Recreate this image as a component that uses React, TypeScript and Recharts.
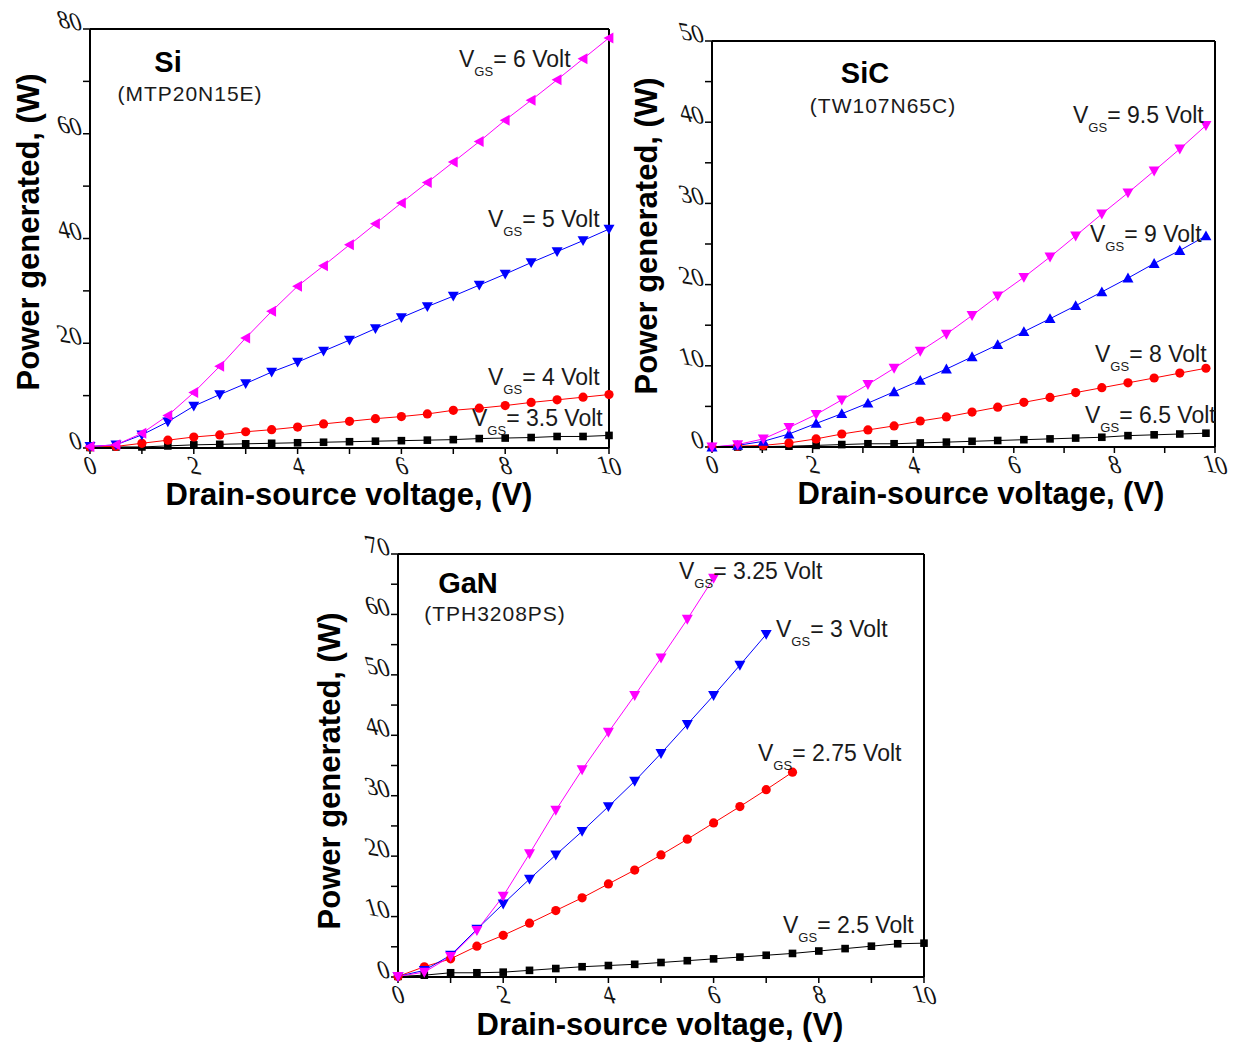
import React from 'react';
import { LineChart, Line, XAxis, YAxis } from 'recharts';

// ---------- Data ----------
const xTicks = [0, 1, 2, 3, 4, 5, 6, 7, 8, 9, 10];

// Si (MTP20N15E)
const siVds = [0, 0.5, 1, 1.5, 2, 2.5, 3, 3.5, 4, 4.5, 5, 5.5, 6, 6.5, 7, 7.5, 8, 8.5, 9, 9.5, 10];
const siP6 = [0.3, 0.6, 2.8, 6.2, 10.6, 15.6, 21.0, 26.1, 30.9, 34.8, 38.8, 42.8, 46.8, 50.7, 54.6, 58.5, 62.6, 66.4, 70.3, 74.3, 78.3];
const siP5 = [0.3, 0.6, 2.5, 5.0, 8.0, 10.2, 12.3, 14.5, 16.4, 18.5, 20.6, 22.8, 24.9, 27.0, 29.0, 31.1, 33.2, 35.4, 37.5, 39.6, 41.8];
const siP4 = [0.2, 0.3, 0.9, 1.5, 2.1, 2.5, 3.1, 3.5, 4.0, 4.6, 5.1, 5.6, 6.0, 6.5, 7.2, 7.6, 8.1, 8.7, 9.2, 9.7, 10.2];
const siP35 = [0.1, 0.2, 0.2, 0.4, 0.6, 0.7, 0.8, 0.9, 1.0, 1.1, 1.2, 1.3, 1.4, 1.5, 1.6, 1.8, 1.9, 2.0, 2.2, 2.2, 2.4];
const siYTicks = [0, 10, 20, 30, 40, 50, 60, 70, 80];

// SiC (TW107N65C)
const sicVds = [0, 0.51, 1.02, 1.53, 2.07, 2.58, 3.1, 3.62, 4.14, 4.66, 5.17, 5.68, 6.2, 6.72, 7.23, 7.75, 8.27, 8.79, 9.3, 9.82];
const sicP95 = [0, 0.3, 1.0, 2.4, 4.0, 5.8, 7.7, 9.7, 11.8, 13.9, 16.2, 18.6, 20.9, 23.4, 26.0, 28.7, 31.3, 34.0, 36.7, 39.6];
const sicP9 = [0, 0.2, 0.7, 1.6, 2.9, 4.1, 5.4, 6.8, 8.2, 9.6, 11.1, 12.6, 14.2, 15.8, 17.4, 19.1, 20.8, 22.6, 24.2, 26.0];
const sicP8 = [0, 0.1, 0.2, 0.5, 1.0, 1.6, 2.1, 2.6, 3.2, 3.7, 4.3, 4.9, 5.5, 6.1, 6.7, 7.3, 7.9, 8.5, 9.1, 9.7];
const sicP65 = [0, 0, 0.05, 0.1, 0.2, 0.3, 0.4, 0.4, 0.5, 0.6, 0.7, 0.8, 0.9, 1.0, 1.1, 1.2, 1.4, 1.5, 1.6, 1.7];
const sicYTicks = [0, 5, 10, 15, 20, 25, 30, 35, 40, 45, 50];

// GaN (TPH3208PS)
const ganVds = [0, 0.5, 1, 1.5, 2, 2.5, 3, 3.5, 4, 4.5, 5, 5.5, 6, 6.5, 7, 7.5, 8, 8.5, 9, 9.5, 10];
const ganP325 = [0.1, 0.8, 3.4, 7.7, 13.4, 20.4, 27.6, 34.3, 40.5, 46.6, 52.8, 59.2, 66.0];
const ganP3 = [0.1, 1.1, 3.6, 7.9, 12.1, 16.2, 20.2, 24.1, 28.2, 32.4, 37.0, 41.8, 46.6, 51.6, 56.7];
const ganP275 = [0.1, 1.7, 3.0, 5.1, 6.9, 8.9, 11.0, 13.1, 15.4, 17.7, 20.2, 22.8, 25.5, 28.2, 31.0, 33.9];
const ganP25 = [0.1, 0.3, 0.7, 0.7, 0.8, 1.1, 1.4, 1.7, 1.9, 2.1, 2.4, 2.7, 3.0, 3.3, 3.6, 3.9, 4.3, 4.7, 5.1, 5.5, 5.6];
const ganYTicks = [0, 5, 10, 15, 20, 25, 30, 35, 40, 45, 50, 55, 60, 65, 70];

// ---------- Tables built from the arrays ----------
const siData = siVds.map((x, i) => ({ x, a: siP35[i], b: siP4[i], c: siP5[i], d: siP6[i] }));
const sicData = sicVds.map((x, i) => ({ x, a: sicP65[i], b: sicP8[i], c: sicP9[i], d: sicP95[i] }));
const ganData = ganVds.map((x, i) => ({ x, a: ganP25[i], b: ganP275[i], c: ganP3[i], d: ganP325[i] }));

const MAGENTA = '#ff00ff';
const BLUE = '#0000ff';
const RED = '#ff0000';
const BLACK = '#000000';

type Shape = 'down' | 'up' | 'left' | 'circle' | 'square';

const makeDot = (shape: Shape, color: string, id: string) => (props: any) => {
  const { cx, cy, index } = props;
  const key = `${id}-${index}`;
  if (cx == null || cy == null || Number.isNaN(cx) || Number.isNaN(cy)) return <g key={key} />;
  const s = 5.5;
  if (shape === 'circle') return <circle key={key} cx={cx} cy={cy} r={4.6} fill={color} />;
  if (shape === 'square') return <rect key={key} x={cx - 3.8} y={cy - 3.8} width={7.6} height={7.6} fill={color} />;
  let pts = '';
  if (shape === 'down') pts = `${cx - s},${cy - s * 0.8} ${cx + s},${cy - s * 0.8} ${cx},${cy + s}`;
  if (shape === 'up') pts = `${cx - s},${cy + s * 0.8} ${cx + s},${cy + s * 0.8} ${cx},${cy - s}`;
  if (shape === 'left') pts = `${cx - s},${cy} ${cx + s * 0.8},${cy - s} ${cx + s * 0.8},${cy + s}`;
  return <polygon key={key} points={pts} fill={color} />;
};

const tickFont = "'Liberation Serif', 'DejaVu Serif', serif";
const sansFont = "'Liberation Sans', Arial, sans-serif";
const tickTransform = 'rotate(9) skewX(26)';

const renderXTick = (props: any) => {
  const { x, y, payload } = props;
  const v = payload.value;
  if (v % 2 !== 0) return <g />;
  return (
    <g transform={`translate(${x},${y + 11})`}>
      <text textAnchor="middle" dominantBaseline="central" transform={tickTransform}
        fontFamily={tickFont} fontSize={24} fill="#111">{v}</text>
    </g>
  );
};

const makeYTick = (step: number) => (props: any) => {
  const { x, y, payload } = props;
  const v = payload.value;
  if (v % step !== 0) return <g />;
  return (
    <g transform={`translate(${x - 2},${y - 7})`}>
      <text textAnchor="end" dominantBaseline="central" transform={tickTransform}
        fontFamily={tickFont} fontSize={24} fill="#111">{v}</text>
    </g>
  );
};

const axisLine = { stroke: '#000', strokeWidth: 2 };
const tickLine = { stroke: '#000', strokeWidth: 1.5 };

type Series = { key: string; color: string; shape: Shape };

function Panel(p: {
  left: number; top: number; width: number; height: number;
  margin: { top: number; right: number; bottom: number; left: number };
  data: any[]; yMax: number; yTicks: number[]; yStep: number; series: Series[]; id: string;
}) {
  return (
    <div style={{ position: 'absolute', left: p.left, top: p.top, width: p.width, height: p.height }}>
      <LineChart width={p.width} height={p.height} data={p.data} margin={p.margin} style={{ overflow: 'visible' }}>
        <XAxis xAxisId="b" dataKey="x" type="number" domain={[0, 10]} ticks={xTicks} interval={0}
          height={30} tickSize={6} tickMargin={0} axisLine={axisLine} tickLine={tickLine} tick={renderXTick} />
        <XAxis xAxisId="t" orientation="top" mirror type="number" domain={[0, 10]} allowDataOverflow
          ticks={xTicks} interval={0} tickSize={5} axisLine={axisLine} tickLine={tickLine} tick={false} />
        <YAxis yAxisId="l" type="number" domain={[0, p.yMax]} ticks={p.yTicks} interval={0}
          width={40} tickSize={7} tickMargin={0} axisLine={axisLine} tickLine={tickLine} tick={makeYTick(p.yStep)} />
        <YAxis yAxisId="r" orientation="right" mirror type="number" domain={[0, p.yMax]} allowDataOverflow
          ticks={p.yTicks} interval={0} tickSize={5} axisLine={axisLine} tickLine={tickLine} tick={false} />
        {p.series.map((s) => (
          <Line key={s.key} xAxisId="b" yAxisId="l" type="linear" dataKey={s.key} stroke={s.color}
            strokeWidth={1} dot={makeDot(s.shape, s.color, p.id + s.key)} activeDot={false}
            isAnimationActive={false} connectNulls={false} />
        ))}
      </LineChart>
    </div>
  );
}

function VLabel({ x, y, value }: { x: number; y: number; value: string }) {
  return (
    <text x={x} y={y} fontFamily={sansFont} fontSize={23} fill="#1a1a1a">
      V<tspan fontSize={13} dy={9}>GS</tspan><tspan dy={-9}>= {value} Volt</tspan>
    </text>
  );
}

const titleStyle = { fontFamily: sansFont, fontWeight: 700 as const, fontSize: 31, fill: '#000' };

export default function App() {
  return (
    <div style={{ position: 'absolute', left: 0, top: 0, width: 1236, height: 1044, background: '#fff' }}>
      <Panel id="si" left={0} top={0} width={640} height={520}
        margin={{ top: 29, right: 31, bottom: 42, left: 50 }}
        data={siData} yMax={80} yTicks={siYTicks} yStep={20}
        series={[
          { key: 'a', color: BLACK, shape: 'square' },
          { key: 'b', color: RED, shape: 'circle' },
          { key: 'c', color: BLUE, shape: 'down' },
          { key: 'd', color: MAGENTA, shape: 'left' },
        ]} />
      <Panel id="sic" left={640} top={0} width={596} height={520}
        margin={{ top: 41, right: 21, bottom: 43, left: 32 }}
        data={sicData} yMax={50} yTicks={sicYTicks} yStep={10}
        series={[
          { key: 'a', color: BLACK, shape: 'square' },
          { key: 'b', color: RED, shape: 'circle' },
          { key: 'c', color: BLUE, shape: 'up' },
          { key: 'd', color: MAGENTA, shape: 'down' },
        ]} />
      <Panel id="gan" left={300} top={520} width={660} height={524}
        margin={{ top: 34, right: 36, bottom: 37, left: 58 }}
        data={ganData} yMax={70} yTicks={ganYTicks} yStep={10}
        series={[
          { key: 'a', color: BLACK, shape: 'square' },
          { key: 'b', color: RED, shape: 'circle' },
          { key: 'c', color: BLUE, shape: 'down' },
          { key: 'd', color: MAGENTA, shape: 'down' },
        ]} />

      <svg width={1236} height={1044} style={{ position: 'absolute', left: 0, top: 0, pointerEvents: 'none' }}>
        {/* axis titles */}
        <text transform="translate(39,232) rotate(-90)" textAnchor="middle" {...titleStyle}>Power generated, (W)</text>
        <text x={349} y={505} textAnchor="middle" {...titleStyle}>Drain-source voltage, (V)</text>
        <text transform="translate(657,236) rotate(-90)" textAnchor="middle" {...titleStyle}>Power generated, (W)</text>
        <text x={981} y={504} textAnchor="middle" {...titleStyle}>Drain-source voltage, (V)</text>
        <text transform="translate(340,771) rotate(-90)" textAnchor="middle" {...titleStyle}>Power generated, (W)</text>
        <text x={660} y={1035} textAnchor="middle" {...titleStyle}>Drain-source voltage, (V)</text>

        {/* device titles */}
        <text x={168} y={72} textAnchor="middle" fontFamily={sansFont} fontWeight={700} fontSize={29}>Si</text>
        <text x={190} y={101} textAnchor="middle" fontFamily={sansFont} fontSize={21} letterSpacing={1} fill="#1a1a1a">(MTP20N15E)</text>
        <text x={865} y={83} textAnchor="middle" fontFamily={sansFont} fontWeight={700} fontSize={29}>SiC</text>
        <text x={883} y={113} textAnchor="middle" fontFamily={sansFont} fontSize={21} letterSpacing={1} fill="#1a1a1a">(TW107N65C)</text>
        <text x={468} y={593} textAnchor="middle" fontFamily={sansFont} fontWeight={700} fontSize={29}>GaN</text>
        <text x={495} y={621} textAnchor="middle" fontFamily={sansFont} fontSize={21} letterSpacing={1} fill="#1a1a1a">(TPH3208PS)</text>

        {/* curve annotations */}
        <VLabel x={459} y={67} value="6" />
        <VLabel x={488} y={227} value="5" />
        <VLabel x={488} y={385} value="4" />
        <VLabel x={472} y={426} value="3.5" />

        <VLabel x={1073} y={123} value="9.5" />
        <VLabel x={1090} y={242} value="9" />
        <VLabel x={1095} y={362} value="8" />
        <VLabel x={1085} y={423} value="6.5" />

        <VLabel x={679} y={579} value="3.25" />
        <VLabel x={776} y={637} value="3" />
        <VLabel x={758} y={761} value="2.75" />
        <VLabel x={783} y={933} value="2.5" />
      </svg>
    </div>
  );
}
